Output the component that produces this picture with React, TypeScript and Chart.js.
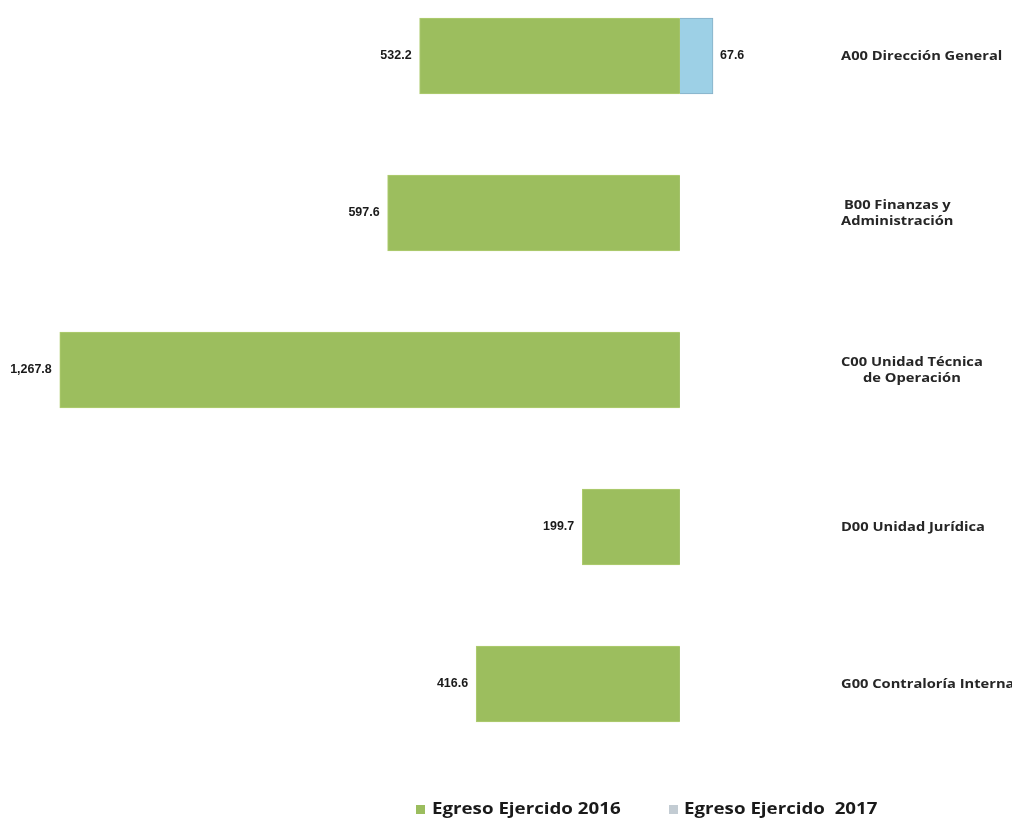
import React, { useEffect, useRef } from "react";
import { Chart, registerables } from "chart.js";

Chart.register(...registerables);

const categories: string[][] = [
  ["A00 Dirección General"],
  ["B00 Finanzas y", "Administración"],
  ["C00 Unidad Técnica", "de Operación"],
  ["D00 Unidad Jurídica"],
  ["G00 Contraloría Interna"],
];
const egreso2016: number[] = [532.2, 597.6, 1267.8, 199.7, 416.6];
const egreso2017: (number | null)[] = [67.6, null, null, null, null];
const seriesNames: string[] = ["Egreso Ejercido 2016", "Egreso Ejercido  2017"];

const fmt = (v: number) =>
  Math.abs(v).toLocaleString("en-US", { minimumFractionDigits: 1, maximumFractionDigits: 1 });

function stretchedText(
  ctx: CanvasRenderingContext2D,
  text: string,
  x: number,
  y: number,
  align: CanvasTextAlign,
  sx: number
) {
  ctx.save();
  ctx.translate(x, y);
  ctx.scale(sx, 1);
  ctx.textAlign = align;
  ctx.fillText(text, 0, 0);
  ctx.restore();
}

const labelsPlugin = {
  id: "customLabels",
  afterDatasetsDraw(chart: any) {
    const ctx = chart.ctx as CanvasRenderingContext2D;
    ctx.save();
    // value labels
    ctx.font = "bold 12px 'Liberation Sans', Arial, sans-serif";
    ctx.fillStyle = "#1a1a1a";
    ctx.textBaseline = "middle";
    chart.data.datasets.forEach((ds: any, di: number) => {
      const meta = chart.getDatasetMeta(di);
      meta.data.forEach((el: any, i: number) => {
        const v = ds.data[i];
        if (v === null || v === undefined) return;
        if (v < 0) {
          stretchedText(ctx, fmt(v), el.x - 8, el.y, "right", 1.04);
        } else {
          stretchedText(ctx, fmt(v), el.x + 7, el.y, "left", 1.04);
        }
      });
    });
    // category labels on the right
    const yScale = chart.scales.y;
    ctx.font = "bold 13px 'Open Sans', sans-serif";
    ctx.fillStyle = "#262626";
    const lh = 16;
    const sxCat = 1.13;
    categories.forEach((lines, i) => {
      const cy = yScale.getPixelForValue(i);
      const w = Math.max(...lines.map((l) => ctx.measureText(l).width)) * sxCat;
      const left = 841;
      lines.forEach((l, li) => {
        const y = cy - ((lines.length - 1) * lh) / 2 + li * lh;
        stretchedText(ctx, l, left + w / 2, y, "center", sxCat);
      });
    });
    // legend
    const legendColors = ["#9BBD5E", "#C3CCD3"];
    const boxX = [416, 669];
    const textX = [432, 684];
    ctx.font = "bold 16px 'Open Sans', sans-serif";
    chart.data.datasets.forEach((ds: any, di: number) => {
      ctx.fillStyle = legendColors[di];
      ctx.fillRect(boxX[di], 805, 9, 9);
      ctx.fillStyle = "#1a1a1a";
      stretchedText(ctx, ds.label, textX[di], 809, "left", 1.17);
    });
    ctx.restore();
  },
};

export default function App() {
  const ref = useRef<HTMLCanvasElement | null>(null);
  useEffect(() => {
    if (!ref.current) return;
    const chart = new Chart(ref.current, {
      type: "bar",
      data: {
        labels: categories.map((c) => c.join(" ")),
        datasets: [
          {
            label: seriesNames[0],
            data: egreso2016.map((v) => -v),
            backgroundColor: "#9CBE5E",
            borderColor: "#B0CD72",
            borderWidth: 1,
            barThickness: 76,
            clip: false as any,
          },
          {
            label: seriesNames[1],
            data: egreso2017,
            backgroundColor: "#9DD0E6",
            borderColor: "#86AFC6",
            borderWidth: 1,
            barThickness: 76,
            clip: false as any,
          },
        ],
      },
      options: {
        indexAxis: "y",
        animation: false,
        responsive: false,
        layout: { padding: { top: 56, bottom: 134, left: 0, right: 200 } },
        scales: {
          x: { stacked: true, min: -1390, max: 270, display: false },
          y: { stacked: true, offset: false, display: false },
        },
        plugins: {
          legend: { display: false },
          tooltip: { enabled: false },
        },
      },
      plugins: [labelsPlugin],
    });
    return () => chart.destroy();
  }, []);
  return (
    <div style={{ position: "fixed", left: 0, top: 0, width: 1012, height: 818, background: "#fff" }}>
      <canvas ref={ref} width={1012} height={818} />
    </div>
  );
}
